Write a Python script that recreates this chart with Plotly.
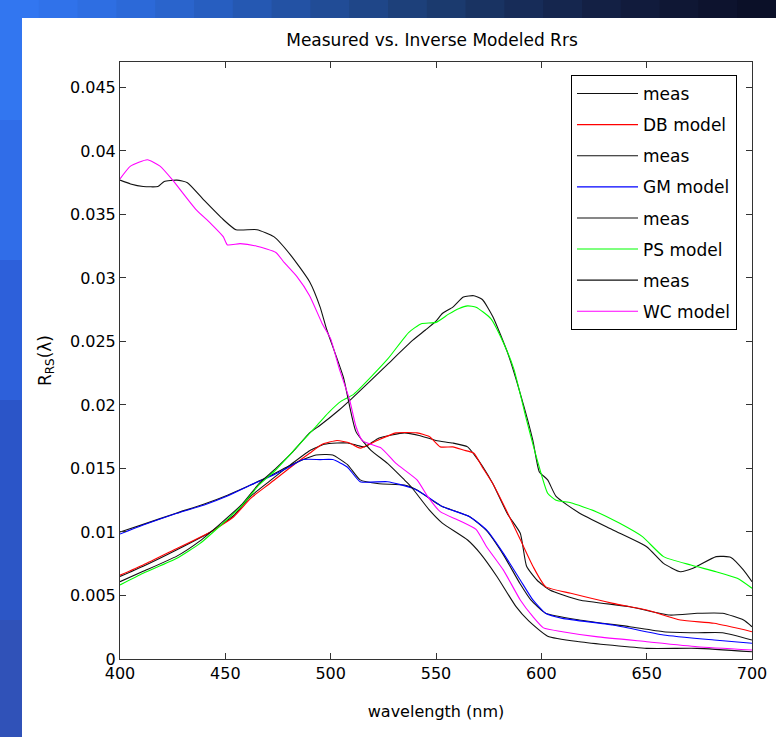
import plotly.graph_objects as go

# ---------------- data (wavelength nm, Rrs) ----------------
db_meas_wl = [400, 411, 427, 443, 454, 462, 471, 481, 490, 497, 503, 508, 512, 516, 523, 535, 542, 550, 558, 565, 569, 572, 577, 584, 590, 593, 598, 604, 618, 642, 661, 674, 686, 696, 700]
db_meas = [0.0065, 0.0073, 0.0086, 0.0100, 0.0113, 0.0128, 0.0140, 0.0153, 0.0164, 0.0169, 0.0170, 0.0170, 0.01685, 0.0167, 0.0174, 0.0178, 0.0176, 0.0172, 0.0170, 0.0167, 0.0159, 0.0152, 0.0138, 0.0114, 0.0099, 0.0073, 0.0062, 0.00543, 0.00465, 0.00412, 0.00346, 0.0036, 0.0036, 0.00307, 0.00254]

db_model_wl = [400, 411, 427, 443, 454, 462, 471, 481, 490, 496, 503, 509, 514, 522, 531, 541, 547, 552, 558, 563, 568, 572, 577, 584, 590, 596, 602, 614, 634, 650, 666, 682, 700]
db_model = [0.0066, 0.0074, 0.0087, 0.0100, 0.0112, 0.01265, 0.0138, 0.0151, 0.0162, 0.0169, 0.0172, 0.0170, 0.0166, 0.0172, 0.0178, 0.0178, 0.0175, 0.0167, 0.0167, 0.01645, 0.0162, 0.0151, 0.0138, 0.0115, 0.0094, 0.0073, 0.0057, 0.00517, 0.00438, 0.00386, 0.00307, 0.00281, 0.00215]

gm_meas_wl = [400, 411, 427, 440, 451, 462, 471, 479, 487, 493, 498, 501, 508, 514, 523, 535, 541, 549, 553, 566, 574, 582, 590, 595, 602, 618, 642, 658, 674, 686, 700]
gm_meas = [0.0100, 0.0106, 0.0115, 0.0122, 0.0129, 0.0137, 0.0144, 0.0151, 0.0157, 0.01606, 0.0161, 0.01606, 0.0153, 0.0141, 0.0138, 0.0137, 0.0133, 0.0124, 0.0120, 0.0112, 0.0101, 0.0082, 0.0059, 0.00465, 0.0036, 0.00307, 0.00254, 0.00215, 0.00207, 0.00207, 0.0015]

gm_model_wl = [400, 411, 427, 440, 451, 462, 471, 479, 487, 495, 501, 508, 514, 527, 539, 546, 553, 566, 574, 582, 590, 596, 602, 610, 634, 658, 682, 700]
gm_model = [0.00984, 0.01055, 0.01147, 0.01213, 0.01283, 0.0137, 0.01435, 0.0150, 0.0157, 0.0157, 0.0157, 0.0151, 0.01396, 0.01396, 0.01344, 0.01278, 0.0120, 0.0112, 0.01016, 0.00832, 0.00622, 0.00465, 0.0036, 0.0032, 0.00268, 0.00189, 0.0015, 0.00124]

ps_meas_wl = [400, 411, 427, 438, 448, 458, 466, 474, 482, 490, 495, 504, 510, 527, 539, 545, 550, 553, 558, 563, 568, 572, 577, 584, 590, 596, 599, 603, 607, 618, 634, 650, 658, 666, 672, 683, 690, 696, 700]
ps_meas = [0.00609, 0.0069, 0.0081, 0.0093, 0.0107, 0.0122, 0.0138, 0.0150, 0.0163, 0.0178, 0.0184, 0.0196, 0.0205, 0.0232, 0.0251, 0.0259, 0.0266, 0.0272, 0.0277, 0.0285, 0.0286, 0.0283, 0.02695, 0.0241, 0.0209, 0.0172, 0.01475, 0.0141, 0.0128, 0.0115, 0.01016, 0.00884, 0.00753, 0.00687, 0.00714, 0.00806, 0.0080, 0.0070, 0.00609]

ps_model_wl = [400, 411, 427, 438, 448, 458, 466, 474, 484, 493, 499, 505, 511, 527, 537, 543, 550, 556, 561, 565, 569, 576, 582, 587, 593, 598, 603, 607, 614, 626, 637, 648, 658, 671, 683, 693, 700]
ps_model = [0.00583, 0.00675, 0.00793, 0.0091, 0.01055, 0.0121, 0.0137, 0.0149, 0.0167, 0.0183, 0.0194, 0.0203, 0.02085, 0.0236, 0.0257, 0.0264, 0.0265, 0.02715, 0.0276, 0.0278, 0.0277, 0.0268, 0.0249, 0.0228, 0.0188, 0.0157, 0.01305, 0.0125, 0.0123, 0.0116, 0.0107, 0.00963, 0.00806, 0.0074, 0.00687, 0.00635, 0.00557]

wc_meas_wl = [400, 405, 411, 418, 421, 427, 432, 440, 449, 455, 465, 473, 481, 490, 495, 498, 506, 512, 519, 527, 535, 538, 547, 553, 565, 571, 579, 588, 594, 603, 618, 650, 674, 700]
wc_meas = [0.0377, 0.0374, 0.0372, 0.0372, 0.0376, 0.0377, 0.0375, 0.0361, 0.0346, 0.0338, 0.0338, 0.03325, 0.0318, 0.0297, 0.0277, 0.0260, 0.0222, 0.0179, 0.01645, 0.0154, 0.0141, 0.0136, 0.0117, 0.0107, 0.00937, 0.00832, 0.00648, 0.00412, 0.0030, 0.0018, 0.00136, 0.00084, 0.00084, 0.00057]

wc_model_wl = [400, 405, 413, 419, 425, 436, 443, 449, 451, 457, 465, 474, 478, 484, 490, 496, 500, 504, 509, 512, 515, 519, 524, 531, 541, 546, 552, 561, 569, 574, 582, 590, 596, 601, 610, 626, 650, 674, 700]
wc_model = [0.0378, 0.0388, 0.0393, 0.0388, 0.0377, 0.0354, 0.0343, 0.03325, 0.0326, 0.0327, 0.0325, 0.0320, 0.0312, 0.0301, 0.0286, 0.0264, 0.0252, 0.0229, 0.0204, 0.0183, 0.0172, 0.0169, 0.0166, 0.0154, 0.0141, 0.0128, 0.0116, 0.0109, 0.0102, 0.00884, 0.0070, 0.00465, 0.00333, 0.00245, 0.00215, 0.00176, 0.00136, 0.00097, 0.00071]

series = [
    ("meas", db_meas_wl, db_meas, "#111111"),
    ("DB model", db_model_wl, db_model, "#ff0000"),
    ("meas", gm_meas_wl, gm_meas, "#111111"),
    ("GM model", gm_model_wl, gm_model, "#0000ff"),
    ("meas", ps_meas_wl, ps_meas, "#111111"),
    ("PS model", ps_model_wl, ps_model, "#00ff00"),
    ("meas", wc_meas_wl, wc_meas, "#111111"),
    ("WC model", wc_model_wl, wc_model, "#ff00ff"),
]

x_ticks = [400, 450, 500, 550, 600, 650, 700]
y_ticks = [0, 0.005, 0.01, 0.015, 0.02, 0.025, 0.03, 0.035, 0.04, 0.045]
y_ticklabels = ["0", "0.005", "0.01", "0.015", "0.02", "0.025", "0.03", "0.035", "0.04", "0.045"]

# ---------------- figure ----------------
W, H = 776, 737
L, R, T, B = 120, 24, 62, 78
pw, ph = W - L - R, H - T - B

def px_x(px):
    return (px - L) / pw

def px_y(py):
    return (H - B - py) / ph

fig = go.Figure()
for i, (name, wl, vals, col) in enumerate(series):
    fig.add_trace(go.Scatter(x=wl, y=vals, mode="lines", name=name,
                             legendgroup="g%d" % i,
                             line=dict(color=col, width=1.1, shape="spline", smoothing=0.5),
                             hoverinfo="skip"))

shapes = []
# left blue strip (vertical gradient approximation)
left_cols = [(0, 120, "#3276f0"), (120, 260, "#306de8"), (260, 400, "#2d60da"),
             (400, 520, "#2b55c8"), (520, 620, "#2c56c6"), (620, 737, "#3052b8")]
for y0, y1, c in left_cols:
    shapes.append(dict(type="rect", xref="paper", yref="paper", layer="below",
                       x0=px_x(0), x1=px_x(22), y0=px_y(y1), y1=px_y(y0),
                       fillcolor=c, line=dict(width=0)))
# top strip (horizontal gradient approximation)
top_cols = ["#3276f0", "#3072ea", "#2e6ee2", "#2c69d8", "#2a64cc", "#275ec0",
            "#2558b2", "#2352a4", "#214c96", "#1f4688", "#1d407a", "#1b3a6e",
            "#193362", "#172c58", "#15264e", "#132044", "#111b3c", "#0f1734",
            "#0d132e", "#0b1028"]
n = len(top_cols)
for i, c in enumerate(top_cols):
    x0 = W * i / n
    x1 = W * (i + 1) / n + 1
    shapes.append(dict(type="rect", xref="paper", yref="paper", layer="below",
                       x0=px_x(x0), x1=px_x(x1), y0=px_y(18), y1=px_y(0),
                       fillcolor=c, line=dict(width=0)))

font_family = "DejaVu Sans, Liberation Sans, sans-serif"
axis_common = dict(showgrid=False, zeroline=False, showline=True, linecolor="#333333",
                   linewidth=1, mirror="ticks", ticks="inside", ticklen=6,
                   tickcolor="#333333", tickwidth=1,
                   tickfont=dict(family=font_family, size=16, color="#000000"))

fig.update_layout(
    width=W, height=H,
    margin=dict(l=L, r=R, t=T, b=B, autoexpand=False),
    paper_bgcolor="#ffffff", plot_bgcolor="#ffffff",
    shapes=shapes,
    title=dict(text="Measured vs. Inverse Modeled Rrs", xref="container",
               x=432 / W, xanchor="center",
               y=1 - 40 / H, yanchor="middle",
               font=dict(family=font_family, size=17, color="#000000")),
    xaxis=dict(range=[400, 700], tickvals=x_ticks, ticktext=[str(v) for v in x_ticks],
               title=dict(text="wavelength (nm)", standoff=23,
                          font=dict(family=font_family, size=16, color="#000000")),
               **axis_common),
    yaxis=dict(range=[0, 0.047], tickvals=y_ticks, ticktext=y_ticklabels,
               title=dict(text="R<sub>RS</sub>(λ)", standoff=14,
                          font=dict(family=font_family, size=17, color="#000000")),
               **axis_common),
    legend=dict(x=px_x(737), xanchor="right", y=px_y(75), yanchor="top",
                bgcolor="#ffffff", bordercolor="#000000", borderwidth=1,
                font=dict(family=font_family, size=17, color="#000000"),
                itemwidth=61, tracegroupgap=6),
    showlegend=True,
    hovermode=False,
)

fig.write_html("out.html", config={"displayModeBar": False})
